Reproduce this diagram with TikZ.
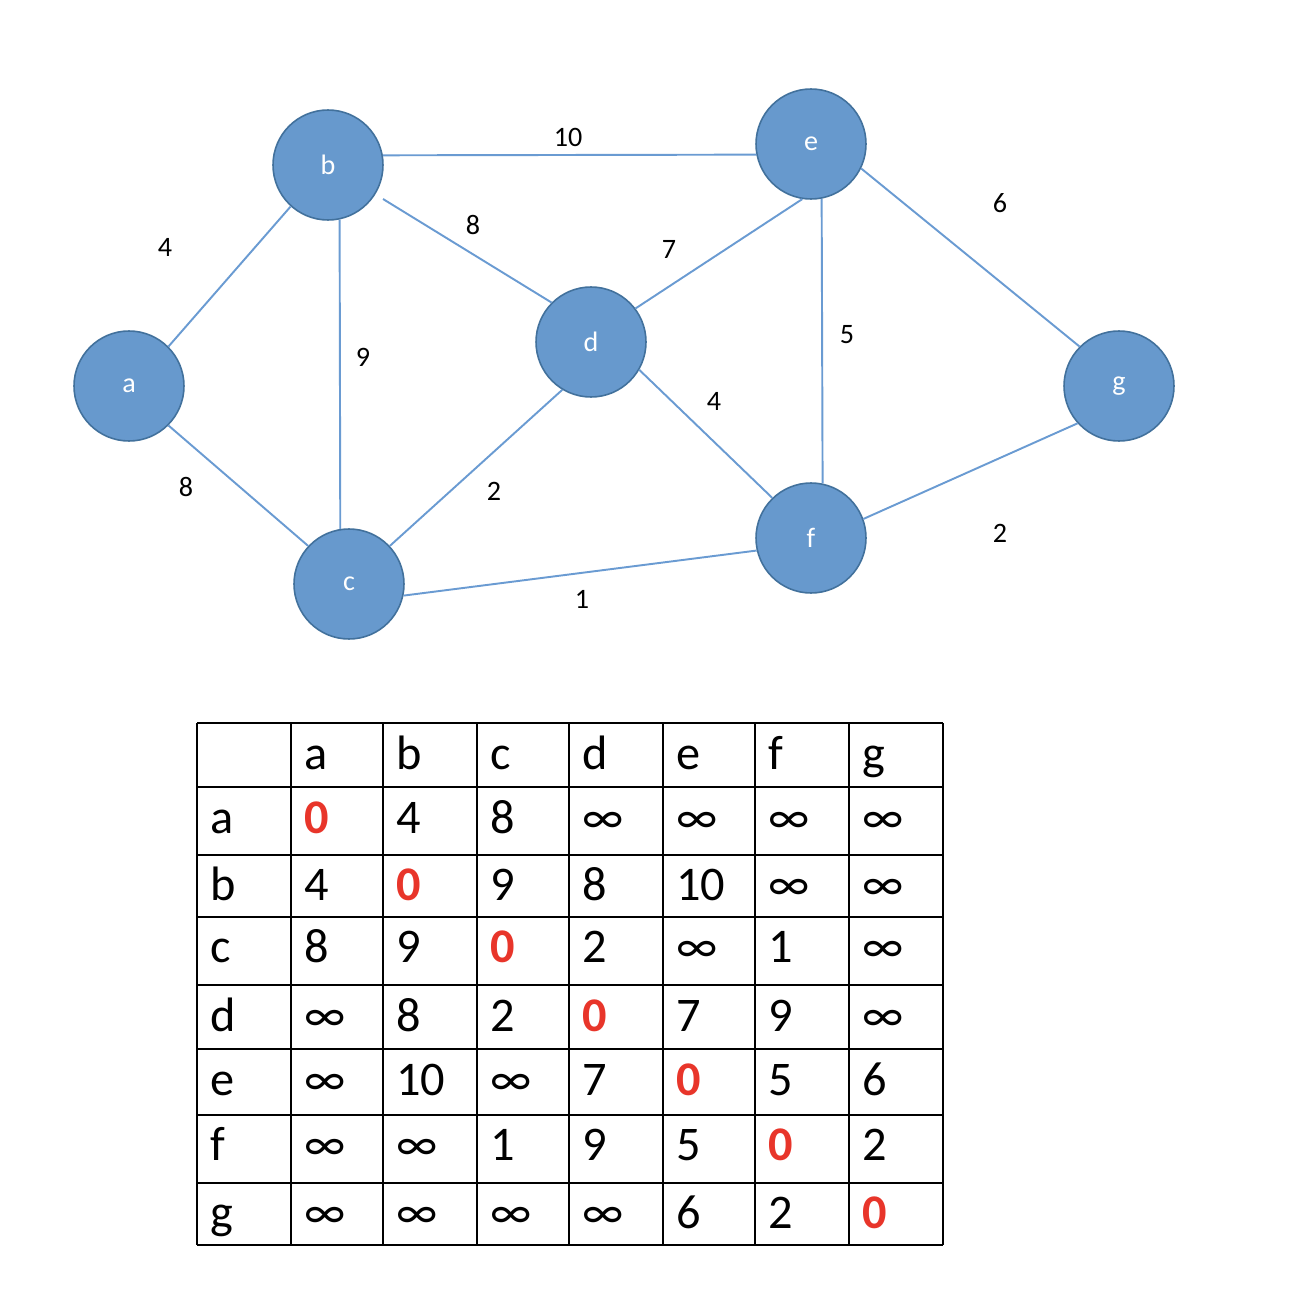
\documentclass[tikz,border=0pt]{standalone}
\usepackage{fontspec}
\usetikzlibrary{calc}
\setmainfont{Carlito}
\definecolor{nodefill}{RGB}{103,153,205}
\definecolor{nodeline}{RGB}{66,113,156}
\definecolor{edgecol}{RGB}{106,155,210}
\definecolor{zred}{RGB}{232,53,42}
\newcommand\zeroR{\textcolor{zred}{\bfseries 0}}
\newcommand\infy{∞}
\begin{document}
\begin{tikzpicture}[x=0.02cm,y=-0.02cm,
  vert/.style={circle,minimum size=2.2cm,inner sep=0pt,fill=nodefill,draw=nodeline,line width=0.9pt,text=white,font=\fontsize{16}{19}\selectfont},
  edge/.style={draw=edgecol,line width=1.1pt},
  wlab/.style={font=\fontsize{16}{19}\selectfont,inner sep=0pt},
  cell/.style={anchor=base west,inner sep=0pt,font=\fontsize{27.5}{32}\selectfont},
  grid/.style={line width=1.2pt}]
\useasboundingbox (0,0) rectangle (1290,1294);
% vertices
\node[vert] (a) at (129,386) {a};
\node[vert] (b) at (328,165) {b};
\node[vert] (c) at (349,584) {c};
\node[vert] (d) at (591,342) {d};
\node[vert] (e) at (811,144) {e};
\node[vert] (f) at (811,538) {f};
\node[vert] (g) at (1119,386) {g};
% edges
\draw[edge] (a.45.7) -- (b.228);
\draw[edge] (a.315) -- (c.137);
\draw[edge] (b.282) -- (c.99.5);
\draw[edge] ($(b)+(55,34)$) -- (d.135.7);
\draw[edge] (b.10) -- (e.191.5);
\draw[edge] (c.43.6) -- (d.239.8);
\draw[edge] (c.348.7) -- (f.193.5);
\draw[edge] (d.37) -- (e.261.6);
\draw[edge] (d.330) -- (f.134);
\draw[edge] (e.281) -- (f.78.7);
\draw[edge] (e.334) -- (g.135.7);
\draw[edge] (f.20) -- (g.222);
% weights
\node[wlab] (wbe) at (568,137) {10};
\node[wlab] (wab) at (165,247) {4};
\node[wlab] (wbd) at (473,225) {8};
\node[wlab] (wde) at (669,249) {7};
\node[wlab] (weg) at (1000,203) {6};
\node[wlab] (wbc) at (363,357) {9};
\node[wlab] (wef) at (847,335) {5};
\node[wlab] (wdf) at (714,401) {4};
\node[wlab] (wac) at (186,487) {8};
\node[wlab] (wcd) at (494,491) {2};
\node[wlab] (wfg) at (1000,533) {2};
\node[wlab] (wcf) at (582,599) {1};
% table grid
\foreach \yy in {723,787,855,917,985,1049,1115,1183,1245}
  \draw[grid] (197,\yy) -- (943,\yy);
\foreach \xx in {197,291,383,477,569,663,755,849,943}
  \draw[grid] (\xx,723) -- (\xx,1245);
% table text
\foreach \x/\t [count=\i] in {304/a,396/b,490/c,582/d,676/e,768/f,862/g}
  \node[cell] (h\i) at (\x,769) {\t};
\foreach \x/\t [count=\i] in {210/a,304/\zeroR,396/4,490/8,582/\infy,676/\infy,768/\infy,862/\infy}
  \node[cell] (ra\i) at (\x,833) {\t};
\foreach \x/\t [count=\i] in {210/b,304/4,396/\zeroR,490/9,582/8,676/10,768/\infy,862/\infy}
  \node[cell] (rb\i) at (\x,900) {\t};
\foreach \x/\t [count=\i] in {210/c,304/8,396/9,490/\zeroR,582/2,676/\infy,768/1,862/\infy}
  \node[cell] (rc\i) at (\x,962) {\t};
\foreach \x/\t [count=\i] in {210/d,304/\infy,396/8,490/2,582/\zeroR,676/7,768/9,862/\infy}
  \node[cell] (rd\i) at (\x,1031) {\t};
\foreach \x/\t [count=\i] in {210/e,304/\infy,396/10,490/\infy,582/7,676/\zeroR,768/5,862/6}
  \node[cell] (re\i) at (\x,1095) {\t};
\foreach \x/\t [count=\i] in {210/f,304/\infy,396/\infy,490/1,582/9,676/5,768/\zeroR,862/2}
  \node[cell] (rf\i) at (\x,1160) {\t};
\foreach \x/\t [count=\i] in {210/g,304/\infy,396/\infy,490/\infy,582/\infy,676/6,768/2,862/\zeroR}
  \node[cell] (rg\i) at (\x,1228) {\t};
\end{tikzpicture}
\end{document}
